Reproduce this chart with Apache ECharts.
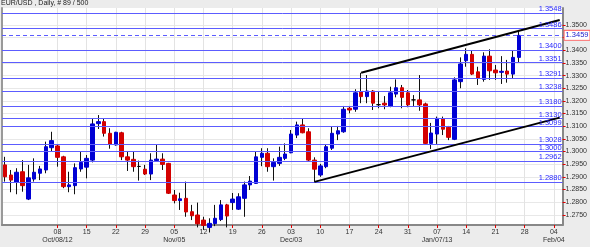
<!DOCTYPE html>
<html>
<head>
<meta charset="utf-8">
<script src="https://cdn.jsdelivr.net/npm/echarts@6/dist/echarts.min.js"></script>
<style>
html,body{margin:0;padding:0;background:#ececec;overflow:hidden;}
#c{width:590px;height:247px;}
</style>
</head>
<body>
<div id="c"></div>
<script>
// ---- DATA ----
const dates = [
'2012-09-25','2012-09-26','2012-09-27','2012-09-28',
'2012-10-01','2012-10-02','2012-10-03','2012-10-04','2012-10-05',
'2012-10-08','2012-10-09','2012-10-10','2012-10-11','2012-10-12',
'2012-10-15','2012-10-16','2012-10-17','2012-10-18','2012-10-19',
'2012-10-22','2012-10-23','2012-10-24','2012-10-25','2012-10-26',
'2012-10-29','2012-10-30','2012-10-31','2012-11-01','2012-11-02',
'2012-11-05','2012-11-06','2012-11-07','2012-11-08','2012-11-09',
'2012-11-12','2012-11-13','2012-11-14','2012-11-15','2012-11-16',
'2012-11-19','2012-11-20','2012-11-21','2012-11-22','2012-11-23',
'2012-11-26','2012-11-27','2012-11-28','2012-11-29','2012-11-30',
'2012-12-03','2012-12-04','2012-12-05','2012-12-06','2012-12-07',
'2012-12-10','2012-12-11','2012-12-12','2012-12-13','2012-12-14',
'2012-12-17','2012-12-18','2012-12-19','2012-12-20','2012-12-21',
'2012-12-24','2012-12-25','2012-12-26','2012-12-27','2012-12-28',
'2012-12-31','2013-01-01','2013-01-02','2013-01-03','2013-01-04',
'2013-01-07','2013-01-08','2013-01-09','2013-01-10','2013-01-11',
'2013-01-14','2013-01-15','2013-01-16','2013-01-17','2013-01-18',
'2013-01-21','2013-01-22','2013-01-23','2013-01-24','2013-01-25',
'2013-01-28','2013-01-29','2013-01-30','2013-01-31','2013-02-01',
'2013-02-04','2013-02-05'
];
const opens = [
1.2947,1.2907,1.2878,1.2920,1.2812,1.2891,1.2914,1.2927,1.3015,1.3022,
1.2979,1.2861,1.2865,1.2931,1.2938,1.2966,1.3110,1.3118,1.3072,1.3026,
1.3074,1.2979,1.2969,1.2941,1.2930,1.2911,1.2964,1.2970,1.2953,1.2828,
1.2806,1.2815,1.2762,1.2749,1.2729,1.2700,1.2715,1.2731,1.2789,1.2798,
1.2772,1.2815,1.2868,1.2874,1.2977,1.2993,1.2940,1.2953,1.2973,1.2995,
1.3065,1.3105,1.3078,1.2966,1.2907,1.2940,1.3013,1.3069,1.3078,1.3171,
1.3167,1.3236,1.3217,1.3239,1.3185,1.3191,1.3180,1.3227,1.3252,1.3232,
1.3204,1.3204,1.3188,1.3032,1.3069,1.3128,1.3096,1.3048,1.3276,1.3359,
1.3384,1.3315,1.3285,1.3377,1.3322,1.3313,1.3318,1.3306,1.3372
];
const highs = [
1.2979,1.2927,1.2934,1.2966,1.2947,1.2973,1.2943,1.3039,1.3078,1.3026,
1.2983,1.2920,1.2953,1.2999,1.2986,1.3131,1.3144,1.3131,1.3092,1.3078,
1.3078,1.3002,1.2999,1.2964,1.2947,1.2993,1.3026,1.2993,1.2955,1.2848,
1.2837,1.2881,1.2789,1.2798,1.2742,1.2736,1.2789,1.2808,1.2793,1.2836,
1.2835,1.2881,1.2903,1.2999,1.3013,1.3013,1.2973,1.3019,1.3032,1.3085,
1.3118,1.3131,1.3092,1.2977,1.2951,1.3026,1.3098,1.3101,1.3180,1.3180,
1.3246,1.3311,1.3302,1.3243,1.3236,1.3219,1.3256,1.3285,1.3263,1.3243,
1.3223,1.3302,1.3193,1.3113,1.3138,1.3138,1.3101,1.3293,1.3372,1.3408,
1.3398,1.3335,1.3392,1.3404,1.3342,1.3377,1.3362,1.3398,1.3480
];
const lows = [
1.2881,1.2839,1.2831,1.2841,1.2808,1.2881,1.2887,1.2914,1.2999,1.2940,
1.2855,1.2839,1.2831,1.2920,1.2894,1.2957,1.3089,1.3059,1.3011,1.3023,
1.2966,1.2923,1.2920,1.2885,1.2907,1.2887,1.2960,1.2927,1.2832,1.2795,
1.2769,1.2742,1.2729,1.2700,1.2690,1.2680,1.2705,1.2725,1.2700,1.2769,
1.2769,1.2742,1.2848,1.2872,1.2942,1.2920,1.2885,1.2943,1.2966,1.2993,
1.3053,1.3072,1.2960,1.2880,1.2900,1.2934,1.3006,1.3045,1.3074,1.3151,
1.3157,1.3191,1.3191,1.3164,1.3171,1.3167,1.3175,1.3214,1.3171,1.3175,
1.3180,1.3161,1.3030,1.3010,1.3030,1.3065,1.3045,1.3045,1.3250,1.3335,
1.3302,1.3263,1.3276,1.3283,1.3283,1.3267,1.3272,1.3287,1.3351
];
const closes = [
1.2900,1.2887,1.2918,1.2865,1.2896,1.2918,1.2931,1.3019,1.3043,1.2977,
1.2861,1.2868,1.2936,1.2957,1.2973,1.3109,1.3118,1.3072,1.3028,1.3076,
1.2979,1.2966,1.2940,1.2941,1.2911,1.2966,1.2970,1.2949,1.2835,1.2806,
1.2813,1.2761,1.2746,1.2714,1.2708,1.2716,1.2736,1.2789,1.2745,1.2812,
1.2821,1.2868,1.2883,1.2979,1.2993,1.2940,1.2957,1.2977,1.2990,1.3069,
1.3105,1.3074,1.2966,1.2930,1.2943,1.3019,1.3072,1.3082,1.3167,1.3164,
1.3232,1.3217,1.3239,1.3191,1.3185,1.3184,1.3232,1.3252,1.3214,1.3184,
1.3204,1.3184,1.3032,1.3073,1.3131,1.3088,1.3056,1.3283,1.3346,1.3384,
1.3306,1.3289,1.3377,1.3319,1.3311,1.3317,1.3306,1.3372,1.3459
];
const levels = [1.3548,1.3486,1.3400,1.3351,1.3291,1.3238,1.3180,1.3130,1.3099,1.3028,1.3000,1.2962,1.2880];
const currentPrice = 1.3459;
const upperTrend = [['2012-12-19',1.3311],['2013-02-05',1.3520]];
const lowerTrend = [['2012-12-07',1.2880],['2013-02-05',1.3134]];
const yTicks = [1.2750,1.2800,1.2850,1.2900,1.2950,1.3000,1.3050,1.3100,1.3150,1.3200,1.3250,1.3300,1.3350,1.3400,1.3450,1.3500];
const hiddenYLabels = [1.3450];
const labelDates = ['2012-10-08','2012-10-15','2012-10-22','2012-10-29','2012-11-05','2012-11-12','2012-11-19','2012-11-26','2012-12-03','2012-12-10','2012-12-17','2012-12-24','2012-12-31','2013-01-07','2013-01-14','2013-01-21','2013-01-28','2013-02-04'];
const dayLabels = ['08','15','22','29','05','12','19','26','03','10','17','24','31','07','14','21','28','04'];
const monthLabels = ['Oct/08/12','','','','Nov/05','','','','Dec/03','','','','','Jan/07/13','','','','Feb/04'];
const titleText = 'EUR/USD , Daily, # 89 / 500';
const yMin = 1.270949, yMax = 1.356719;

// ---- BUILD ----
const FONT = 'Liberation Sans';
const UP = '#0000d4', DOWN = '#d40000';
const wickData = opens.map((o,i)=>[o, closes[i], lows[i], highs[i]]);
const bodyData = opens.map((o,i)=>{
  const c = closes[i];
  const v = [o, c, Math.min(o,c), Math.max(o,c)];
  if (o === c) return {value:v, itemStyle:{color:'#000',color0:'#000',borderColor:'#000',borderColor0:'#000',borderColorDoji:'#000'}};
  return v;
});
const isLabelDate = (i, v) => labelDates.indexOf(v) >= 0;
const levelLines = levels.map(v => ({yAxis: v, label:{formatter: v.toFixed(4)}}));

const chart = echarts.init(document.getElementById('c'), null, {renderer:'canvas'});
chart.setOption({
  animation:false,
  backgroundColor:'#ececec',
  title:{text:titleText, left:1, top:0, padding:0, textStyle:{fontSize:7, fontWeight:'normal', color:'#222', fontFamily:FONT}},
  grid:{left:2, right:26, top:8, bottom:22, show:true, backgroundColor:'#ffffff', borderWidth:0},
  xAxis:{
    type:'category', data:dates, boundaryGap:true,
    axisLine:{show:true, lineStyle:{color:'#888', width:2}},
    axisTick:{show:true, alignWithLabel:true, interval:isLabelDate, length:3, lineStyle:{color:'#e00000'}},
    axisLabel:{interval:isLabelDate, fontSize:7, fontFamily:FONT, color:'#333', lineHeight:8, margin:3,
      formatter:(v)=>{const k=labelDates.indexOf(v); if(k<0) return ''; return monthLabels[k] ? dayLabels[k]+'\n'+monthLabels[k] : dayLabels[k];}},
    splitLine:{show:true, interval:isLabelDate, alignWithLabel:true, lineStyle:{color:'#e3e3e3', width:1}}
  },
  yAxis:[{
    type:'value', position:'right', min:yMin, max:yMax,
    axisLine:{show:true, lineStyle:{color:'#888', width:2}},
    axisTick:{show:true, customValues:yTicks, length:3, lineStyle:{color:'#e00000'}},
    axisLabel:{show:true, customValues:yTicks, fontSize:7, fontFamily:FONT, color:'#333', margin:3,
      formatter:(v)=> hiddenYLabels.some(h=>Math.abs(h-v)<1e-6) ? '' : v.toFixed(4)},
    splitLine:{show:true, lineStyle:{color:'#e8e8e8', width:1}}
  },{
    type:'value', position:'left', min:yMin, max:yMax,
    axisLine:{show:true, lineStyle:{color:'#999', width:2}},
    axisTick:{show:false}, axisLabel:{show:false}, splitLine:{show:false}
  }],
  series:[{
    type:'candlestick', name:'wick', data:wickData, barWidth:1, silent:true,
    itemStyle:{color:'#111', color0:'#111', borderColor:'#111', borderColor0:'#111', borderColorDoji:'#111', borderWidth:1}
  },{
    type:'candlestick', name:'EUR/USD', data:bodyData, barWidth:4, silent:true,
    itemStyle:{color:UP, color0:DOWN, borderColor:UP, borderColor0:DOWN, borderColorDoji:'#000', borderWidth:1}
  },{
    type:'line', name:'levels', data:[], silent:true, yAxisIndex:0,
    markLine:{symbol:['none','none'], silent:true, animation:false, precision:4,
      lineStyle:{color:'#5c5cff', width:1, type:'solid'},
      label:{show:true, position:'insideEndTop', color:'#2828ff', fontSize:7.5, fontFamily:FONT, distance:[1,0]},
      data:levelLines}
  },{
    type:'line', name:'price', data:[], silent:true, yAxisIndex:0,
    markLine:{symbol:['none','none'], silent:true, animation:false, precision:4,
      lineStyle:{color:'#5c5cff', width:1, type:[4,3]},
      label:{show:true, position:'end', formatter: currentPrice.toFixed(4), color:'#1a1acc', fontSize:7.5, fontFamily:FONT,
         backgroundColor:'#fff', borderColor:'#ff6060', borderWidth:1, padding:[1,1,0,1], distance:2},
      data:[{yAxis: currentPrice}]}
  },{
    type:'line', name:'trend', data:[], silent:true, yAxisIndex:0,
    markLine:{symbol:['none','none'], silent:true, animation:false, precision:4,
      lineStyle:{color:'#000', width:2, type:'solid'}, label:{show:false},
      data:[[{coord:upperTrend[0]},{coord:upperTrend[1]}],[{coord:lowerTrend[0]},{coord:lowerTrend[1]}]]}
  }]
});
</script>
</body>
</html>
